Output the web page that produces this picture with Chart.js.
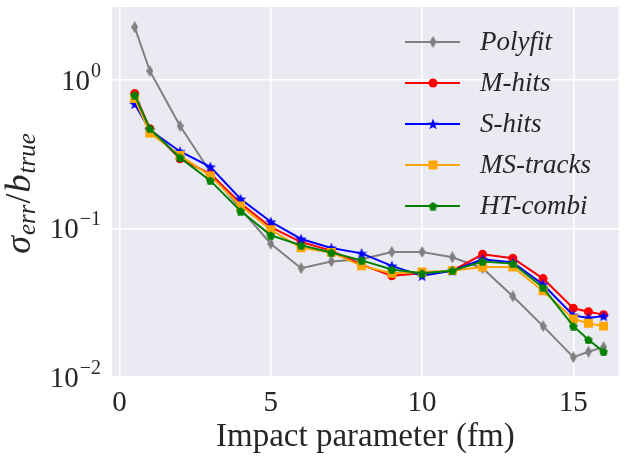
<!DOCTYPE html>
<html lang="en">
<head>
  <meta charset="UTF-8">
  <title>Error vs impact parameter</title>
  <script src="https://cdn.jsdelivr.net/npm/chart.js"></script>
  <style>
    body { margin: 0; background: #fff; }
    #chart-container { width: 625px; height: 462px; }
  </style>
</head>
<body>
  <div id="chart-container">
    <canvas id="myChart"></canvas>
  </div>
  <script>
// impact parameter (fm)
const impact = [0.5, 1, 2, 3, 4, 5, 6, 7, 8, 9, 10, 11, 12, 13, 14, 15, 15.5, 16];

// sigma_err / b_true for each method
const polyfit  = [2.27, 1.15, 0.49, 0.24, 0.135, 0.079, 0.054, 0.060, 0.062, 0.0695, 0.0695, 0.064, 0.054, 0.035, 0.022, 0.0136, 0.0148, 0.0159];
const mHits    = [0.81, 0.47, 0.295, 0.233, 0.148, 0.102, 0.081, 0.071, 0.057, 0.048, 0.050, 0.052, 0.067, 0.063, 0.046, 0.029, 0.0275, 0.0263];
const sHits    = [0.69, 0.46, 0.33, 0.26, 0.158, 0.111, 0.085, 0.074, 0.068, 0.056, 0.048, 0.052, 0.062, 0.059, 0.042, 0.026, 0.025, 0.0257];
const msTracks = [0.75, 0.44, 0.31, 0.226, 0.142, 0.098, 0.074, 0.069, 0.056, 0.050, 0.051, 0.052, 0.055, 0.055, 0.038, 0.0246, 0.023, 0.022];
const htCombi  = [0.79, 0.47, 0.30, 0.21, 0.131, 0.090, 0.077, 0.069, 0.061, 0.053, 0.050, 0.052, 0.060, 0.058, 0.040, 0.022, 0.0178, 0.0148];

const seriesNames = ['Polyfit', 'M-hits', 'S-hits', 'MS-tracks', 'HT-combi'];
const xTicks = [0, 5, 10, 15];
const yTicks = [0.01, 0.1, 1];
const yTickExp = ['\u22122', '\u22121', '0'];

const TXT = '#262626';
const SERIF = '"Liberation Serif", "DejaVu Serif", serif';

// small canvases used as marker images
function marker(shape, color, w, h) {
  const c = document.createElement('canvas');
  c.width = w; c.height = h;
  const g = c.getContext('2d');
  g.fillStyle = color;
  g.beginPath();
  const cx = w / 2, cy = h / 2;
  if (shape === 'diamond') {
    g.moveTo(cx, 0); g.lineTo(w, cy); g.lineTo(cx, h); g.lineTo(0, cy);
  } else if (shape === 'star') {
    const R = w / 2, r = R * 0.4;
    for (let i = 0; i < 10; i++) {
      const a = -Math.PI / 2 + i * Math.PI / 5;
      const rad = i % 2 ? r : R;
      g.lineTo(cx + rad * Math.cos(a), cy + 0.5 + rad * Math.sin(a));
    }
  } else if (shape === 'pentagon') {
    const R = w / 2;
    for (let i = 0; i < 5; i++) {
      const a = -Math.PI / 2 + i * 2 * Math.PI / 5;
      g.lineTo(cx + R * Math.cos(a), cy + 0.5 + R * Math.sin(a));
    }
  }
  g.closePath();
  g.fill();
  return c;
}

const colors = ['#808080', '#ff0000', '#0000ff', '#ffa500', '#008000'];
const styles = [
  { pointStyle: marker('diamond', colors[0], 7, 12), pointRadius: 5 },
  { pointStyle: 'circle', pointRadius: 4.5 },
  { pointStyle: marker('star', colors[2], 12, 12), pointRadius: 5 },
  { pointStyle: 'rect', pointRadius: 6.3 },
  { pointStyle: marker('pentagon', colors[4], 9, 9), pointRadius: 4.5 }
];
const values = [polyfit, mHits, sHits, msTracks, htCombi];

const datasets = values.map((arr, i) => ({
  label: seriesNames[i],
  data: impact.map((x, j) => ({ x: x, y: arr[j] })),
  borderColor: colors[i],
  backgroundColor: colors[i],
  borderWidth: 2,
  pointBorderWidth: 0,
  pointStyle: styles[i].pointStyle,
  pointRadius: styles[i].pointRadius,
  order: 5 - i,
  tension: 0
}));

const decor = {
  id: 'decor',
  beforeDraw(chart) {
    const { ctx, chartArea: a } = chart;
    ctx.save();
    ctx.fillStyle = '#eaeaf2';
    ctx.fillRect(a.left, a.top, a.right - a.left, a.bottom - a.top);
    ctx.restore();
  },
  afterDraw(chart) {
    const ctx = chart.ctx;
    const ys = chart.scales.y;
    ctx.save();
    ctx.fillStyle = TXT;

    // y tick labels as 10^n
    yTicks.forEach((v, i) => {
      const py = ys.getPixelForValue(v);
      ctx.font = '20px ' + SERIF;
      ctx.textAlign = 'right';
      ctx.textBaseline = 'alphabetic';
      const ew = ctx.measureText(yTickExp[i]).width;
      ctx.fillText(yTickExp[i], 101, py - 3);
      ctx.font = '29px ' + SERIF;
      ctx.fillText('10', 100 - ew, py + 10);
    });

    // y axis title with subscripts
    const parts = [
      { t: '\u03c3', f: 'italic 36px ', dy: 0 },
      { t: 'err', f: 'italic 25px ', dy: 5 },
      { t: '/', f: '36px ', dy: 0 },
      { t: 'b', f: 'italic 36px ', dy: 0 },
      { t: 'true', f: 'italic 25px ', dy: 5 }
    ];
    let total = 0;
    parts.forEach(p => { ctx.font = p.f + SERIF; p.w = ctx.measureText(p.t).width + 1; total += p.w; });
    ctx.translate(30, 193);
    ctx.rotate(-Math.PI / 2);
    ctx.textAlign = 'left';
    let cx = -total / 2;
    parts.forEach(p => {
      ctx.font = p.f + SERIF;
      ctx.fillText(p.t, cx, p.dy);
      cx += p.w;
    });
    ctx.restore();

    // legend inside the plot, top right
    ctx.save();
    chart.data.datasets.forEach((ds, i) => {
      const y = 42 + i * 41;
      ctx.strokeStyle = ds.borderColor;
      ctx.lineWidth = 2;
      ctx.beginPath();
      ctx.moveTo(405, y);
      ctx.lineTo(460, y);
      ctx.stroke();
      ctx.fillStyle = ds.backgroundColor;
      Chart.helpers.drawPoint(ctx, { pointStyle: ds.pointStyle, radius: ds.pointRadius, rotation: 0, borderWidth: 0 }, 433, y);
      ctx.fillStyle = TXT;
      ctx.font = 'italic 27px ' + SERIF;
      ctx.textAlign = 'left';
      ctx.textBaseline = 'middle';
      ctx.fillText(ds.label, 480, y + 1);
    });
    ctx.restore();
  }
};

new Chart(document.getElementById('myChart'), {
  type: 'line',
  data: { datasets: datasets },
  options: {
    responsive: true,
    maintainAspectRatio: false,
    animation: false,
    events: [],
    layout: { padding: { top: 7, right: 0, left: 0, bottom: 0 } },
    plugins: { legend: { display: false }, tooltip: { enabled: false } },
    scales: {
      x: {
        type: 'linear',
        min: -0.25,
        max: 16.5,
        afterBuildTicks: s => { s.ticks = xTicks.map(v => ({ value: v })); },
        afterFit: s => { s.height = 85; },
        grid: { color: '#ffffff', lineWidth: 1.5, drawTicks: false },
        border: { display: false },
        ticks: { color: TXT, padding: 9, font: { family: SERIF, size: 29 } },
        title: {
          display: true,
          text: 'Impact parameter (fm)',
          color: TXT,
          font: { family: SERIF, size: 33 },
          padding: { top: 0, bottom: 5 }
        }
      },
      y: {
        type: 'logarithmic',
        min: 0.01,
        max: 3.1,
        afterBuildTicks: s => { s.ticks = yTicks.map(v => ({ value: v })); },
        afterFit: s => { s.width = 112; },
        grid: { color: '#ffffff', lineWidth: 1.5, drawTicks: false },
        border: { display: false },
        ticks: { display: false }
      }
    }
  },
  plugins: [decor]
});
  </script>
</body>
</html>
